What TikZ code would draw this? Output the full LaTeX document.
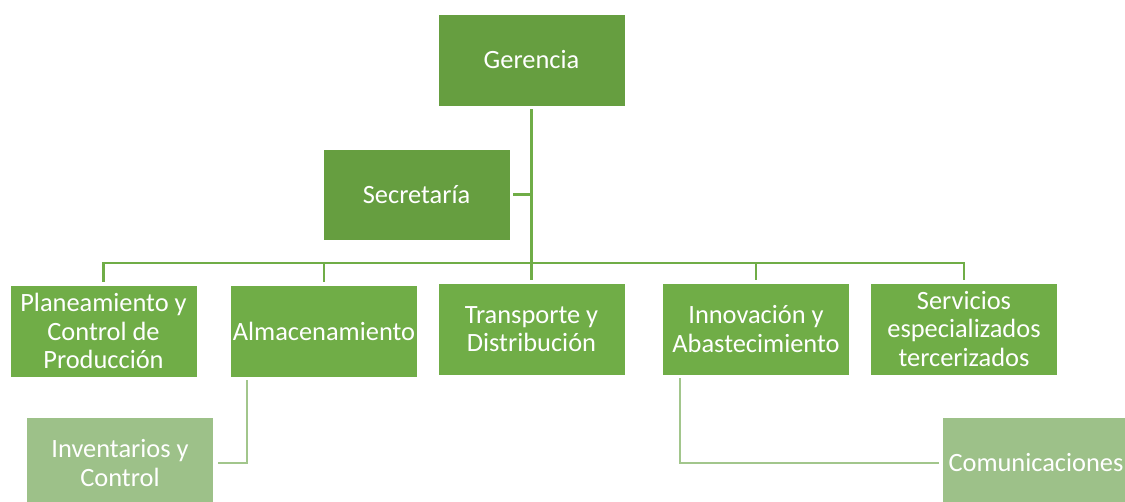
\documentclass[tikz,border=0pt]{standalone}
\usepackage{fontspec}
\setmainfont{Carlito}
\definecolor{gtop}{RGB}{102,158,64}
\definecolor{gmid}{RGB}{112,173,71}
\definecolor{glow}{RGB}{157,193,137}
\definecolor{glowline}{RGB}{162,198,140}
\begin{document}
\begin{tikzpicture}[x=1pt,y=1pt,
  box/.style={rectangle, draw=white, line width=0.8pt, text=white, inner sep=0pt,
    minimum width=187pt, minimum height=92pt, align=center,
    font=\fontsize{26.4pt}{28.5pt}\selectfont},
  topbox/.style={box, fill=gtop},
  midbox/.style={box, fill=gmid},
  lowbox/.style={box, fill=glow},
  link/.style={draw=gmid, line width=2.2pt},
  sublink/.style={draw=glowline, line width=2.2pt}]
\useasboundingbox (0,0) rectangle (1125,-502);
% nodes
\node[topbox] (ger) at (531.5,-60) {Gerencia};
\node[topbox, minimum height=91pt] (sec) at (416.5,-194.5) {Secretaría};
\node[midbox] (pla) at (103.5,-331) {Planeamiento y\\Control de\\Producción};
\node[midbox] (alm) at (324,-331) {Almacenamiento};
\node[midbox] (tra) at (531.5,-329) {Transporte y\\Distribución};
\node[midbox] (inn) at (756,-329) {Innovación y\\Abastecimiento};
\node[midbox] (ser) at (964,-329) {Servicios\\especializados\\tercerizados};
\node[lowbox] (inv) at (120,-463) {Inventarios y\\Control};
\node[lowbox] (com) at (1036,-463) {Comunicaciones};
\coordinate (bus) at (0,-263);
% connectors
\draw[link] ([yshift=-3pt]ger.south) -- (ger.south |- bus);
\draw[link] ([xshift=3pt]sec.east) -- (sec.east -| ger.south);
\draw[link] ([yshift=3pt]pla.north) |- (ser.north |- bus) -- ([yshift=3pt]ser.north);
\draw[link] ([yshift=3pt]alm.north) -- (alm.north |- bus);
\draw[link] ([yshift=3pt]tra.north) -- (tra.north |- bus);
\draw[link] ([yshift=3pt]inn.north) -- (inn.north |- bus);
\draw[sublink] ([xshift=17pt,yshift=-3pt]alm.south west) |- ([xshift=4pt]inv.east);
\draw[sublink] ([xshift=18pt,yshift=-3pt]inn.south west) |- ([xshift=-3pt]com.west);
\end{tikzpicture}
\end{document}
